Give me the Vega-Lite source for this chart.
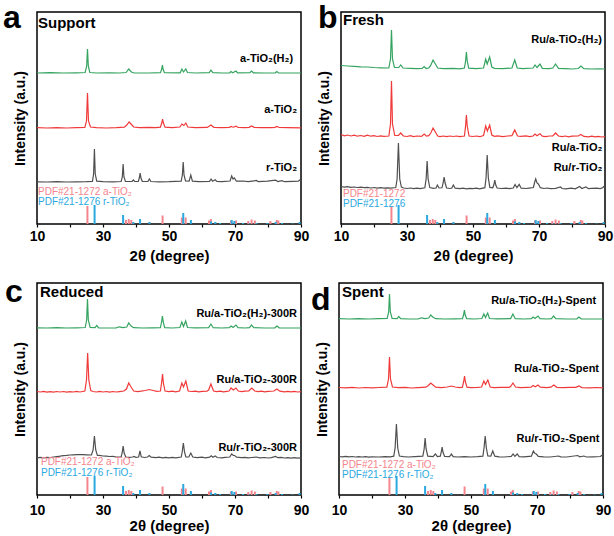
{
 "$schema":"https://vega.github.io/schema/vega-lite/v6.json",
 "padding":{"left":2,"top":1,"right":0,"bottom":0},
 "background":"white",
 "config":{"font":"Liberation Sans","view":{"stroke":"black","strokeWidth":1.5}},
 "datasets":{
  "sticks":[
   {"r":"A","x":25.28,"h":18},{"r":"A","x":36.95,"h":4},{"r":"A","x":37.8,"h":5},{"r":"A","x":38.58,"h":4},{"r":"A","x":48.05,"h":8.5},{"r":"A","x":53.89,"h":6.5},{"r":"A","x":55.06,"h":6.5},{"r":"A","x":62.12,"h":3.5},{"r":"A","x":62.69,"h":5},{"r":"A","x":68.76,"h":3.5},{"r":"A","x":70.31,"h":3.5},{"r":"A","x":74.03,"h":3},{"r":"A","x":75.03,"h":4.5},{"r":"A","x":76.02,"h":3.5},{"r":"A","x":80.73,"h":3},{"r":"A","x":82.66,"h":4},{"r":"A","x":83.15,"h":3.5},
   {"r":"R","x":27.45,"h":19},{"r":"R","x":36.09,"h":9},{"r":"R","x":39.19,"h":2},{"r":"R","x":41.23,"h":5},{"r":"R","x":44.05,"h":2},{"r":"R","x":54.32,"h":11},{"r":"R","x":56.64,"h":4},{"r":"R","x":62.74,"h":2.5},{"r":"R","x":64.04,"h":2},{"r":"R","x":65.48,"h":1},{"r":"R","x":69.01,"h":4},{"r":"R","x":69.79,"h":3},{"r":"R","x":72.41,"h":1},{"r":"R","x":74.41,"h":0.5},{"r":"R","x":76.51,"h":1},{"r":"R","x":79.82,"h":1},{"r":"R","x":82.33,"h":2},{"r":"R","x":84.26,"h":1},{"r":"R","x":87.46,"h":0.5},{"r":"R","x":89.56,"h":2}
  ],
  "labels":[
   {"p":"a","k":"curve","t":"a-TiO₂(H₂)","x":87.6,"y":165},{"p":"a","k":"curve","t":"a-TiO₂","x":88.8,"y":114},{"p":"a","k":"curve","t":"r-TiO₂","x":88.8,"y":56},
   {"p":"a","k":"pdfA","t":"PDF#21-1272 a-TiO₂","x":10.3,"y":32},{"p":"a","k":"pdfR","t":"PDF#21-1276 r-TiO₂","x":10.3,"y":22},
   {"p":"a","k":"title","t":"Support","x":10.3,"y":196},{"p":"a","k":"letter","t":"a","x":-0.3,"y":196},
   {"p":"b","k":"curve","t":"Ru/a-TiO₂(H₂)","x":89.1,"y":184},{"p":"b","k":"curve","t":"Ru/a-TiO₂","x":89.2,"y":76},{"p":"b","k":"curve","t":"Ru/r-TiO₂","x":89.2,"y":56},
   {"p":"b","k":"pdfA","t":"PDF#21-1272","x":10.6,"y":30},{"p":"b","k":"pdfR","t":"PDF#21-1276","x":10.6,"y":20},
   {"p":"b","k":"title","t":"Fresh","x":10.6,"y":199},{"p":"b","k":"letter","t":"b","x":3.0,"y":196},
   {"p":"c","k":"curve","t":"Ru/a-TiO₂(H₂)-300R","x":88.8,"y":181},{"p":"c","k":"curve","t":"Ru/a-TiO₂-300R","x":88.8,"y":115},{"p":"c","k":"curve","t":"Ru/r-TiO₂-300R","x":88.8,"y":47},
   {"p":"c","k":"pdfA","t":"PDF#21-1272 a-TiO₂","x":11.2,"y":33},{"p":"c","k":"pdfR","t":"PDF#21-1276 r-TiO₂","x":11.2,"y":22},
   {"p":"c","k":"title","t":"Reduced","x":10.9,"y":198},{"p":"c","k":"letter","t":"c","x":0.3,"y":193},
   {"p":"d","k":"curve","t":"Ru/a-TiO₂(H₂)-Spent","x":87.9,"y":194},{"p":"d","k":"curve","t":"Ru/a-TiO₂-Spent","x":88.8,"y":126},{"p":"d","k":"curve","t":"Ru/r-TiO₂-Spent","x":88.9,"y":56},
   {"p":"d","k":"pdfA","t":"PDF#21-1272 a-TiO₂","x":10.9,"y":30},{"p":"d","k":"pdfR","t":"PDF#21-1276  r-TiO₂","x":10.9,"y":20},
   {"p":"d","k":"title","t":"Spent","x":10.9,"y":198},{"p":"d","k":"letter","t":"d","x":1.5,"y":185}
  ],
  "xrd":[
   {"p":"a","s":"g","x":10,"y":151},{"p":"a","s":"g","x":14,"y":151.3},{"p":"a","s":"g","x":18,"y":151},{"p":"a","s":"g","x":22,"y":151.2},{"p":"a","s":"g","x":24.6,"y":151.5},{"p":"a","s":"g","x":25.05,"y":158},{"p":"a","s":"g","x":25.3,"y":175},{"p":"a","s":"g","x":25.55,"y":158},{"p":"a","s":"g","x":26,"y":151.5},{"p":"a","s":"g","x":28,"y":151},{"p":"a","s":"g","x":32,"y":151.2},{"p":"a","s":"g","x":35,"y":151},{"p":"a","s":"g","x":37,"y":151.5},{"p":"a","s":"g","x":37.8,"y":155},{"p":"a","s":"g","x":38.6,"y":152},{"p":"a","s":"g","x":39.5,"y":151},{"p":"a","s":"g","x":44,"y":151},{"p":"a","s":"g","x":47.4,"y":151.3},{"p":"a","s":"g","x":47.8,"y":155},{"p":"a","s":"g","x":48.0,"y":159},{"p":"a","s":"g","x":48.2,"y":155},{"p":"a","s":"g","x":48.6,"y":151.3},{"p":"a","s":"g","x":53.4,"y":151.2},{"p":"a","s":"g","x":53.9,"y":155},{"p":"a","s":"g","x":54.4,"y":152},{"p":"a","s":"g","x":55.1,"y":155},{"p":"a","s":"g","x":55.6,"y":151.5},{"p":"a","s":"g","x":58,"y":151},{"p":"a","s":"g","x":62.2,"y":151.3},{"p":"a","s":"g","x":62.7,"y":154},{"p":"a","s":"g","x":63.3,"y":151.3},{"p":"a","s":"g","x":66,"y":151},{"p":"a","s":"g","x":68.4,"y":151.2},{"p":"a","s":"g","x":68.8,"y":152.5},{"p":"a","s":"g","x":69.3,"y":151.3},{"p":"a","s":"g","x":70.3,"y":153},{"p":"a","s":"g","x":70.8,"y":151.2},{"p":"a","s":"g","x":74.5,"y":151.3},{"p":"a","s":"g","x":75.0,"y":153},{"p":"a","s":"g","x":75.6,"y":151.2},{"p":"a","s":"g","x":79,"y":151},{"p":"a","s":"g","x":82.2,"y":151.2},{"p":"a","s":"g","x":82.7,"y":152.5},{"p":"a","s":"g","x":83.2,"y":151.1},{"p":"a","s":"g","x":86,"y":151},{"p":"a","s":"g","x":90,"y":151},

   {"p":"a","s":"r","x":10,"y":96.3},{"p":"a","s":"r","x":13,"y":96},{"p":"a","s":"r","x":16,"y":96.4},{"p":"a","s":"r","x":19,"y":96},{"p":"a","s":"r","x":22,"y":96.3},{"p":"a","s":"r","x":24.5,"y":96.5},{"p":"a","s":"r","x":25.0,"y":103},{"p":"a","s":"r","x":25.3,"y":131},{"p":"a","s":"r","x":25.6,"y":103},{"p":"a","s":"r","x":26.2,"y":97},{"p":"a","s":"r","x":28,"y":96.3},{"p":"a","s":"r","x":31,"y":96},{"p":"a","s":"r","x":34,"y":96.3},{"p":"a","s":"r","x":36.5,"y":96.8},{"p":"a","s":"r","x":37.2,"y":99},{"p":"a","s":"r","x":37.9,"y":102},{"p":"a","s":"r","x":38.5,"y":100},{"p":"a","s":"r","x":39.3,"y":97},{"p":"a","s":"r","x":41,"y":96.4},{"p":"a","s":"r","x":44,"y":96.6},{"p":"a","s":"r","x":46,"y":96.3},{"p":"a","s":"r","x":47.4,"y":96.8},{"p":"a","s":"r","x":47.8,"y":101},{"p":"a","s":"r","x":48.05,"y":105},{"p":"a","s":"r","x":48.3,"y":101},{"p":"a","s":"r","x":48.8,"y":96.8},{"p":"a","s":"r","x":51,"y":96.4},{"p":"a","s":"r","x":53.3,"y":97},{"p":"a","s":"r","x":53.9,"y":100},{"p":"a","s":"r","x":54.5,"y":98.5},{"p":"a","s":"r","x":55.1,"y":101},{"p":"a","s":"r","x":55.7,"y":97},{"p":"a","s":"r","x":58,"y":96.3},{"p":"a","s":"r","x":61.6,"y":96.6},{"p":"a","s":"r","x":62.7,"y":99},{"p":"a","s":"r","x":63.6,"y":96.7},{"p":"a","s":"r","x":66,"y":96.3},{"p":"a","s":"r","x":68.3,"y":96.6},{"p":"a","s":"r","x":68.8,"y":97.5},{"p":"a","s":"r","x":69.5,"y":96.8},{"p":"a","s":"r","x":70.3,"y":97.8},{"p":"a","s":"r","x":71,"y":96.5},{"p":"a","s":"r","x":73,"y":96.3},{"p":"a","s":"r","x":74.3,"y":96.7},{"p":"a","s":"r","x":75.0,"y":98},{"p":"a","s":"r","x":75.8,"y":96.6},{"p":"a","s":"r","x":78,"y":96.3},{"p":"a","s":"r","x":81,"y":96.4},{"p":"a","s":"r","x":82.1,"y":96.7},{"p":"a","s":"r","x":82.7,"y":97.5},{"p":"a","s":"r","x":83.4,"y":96.5},{"p":"a","s":"r","x":86,"y":96.3},{"p":"a","s":"r","x":90,"y":96.2},

   {"p":"a","s":"k","x":10,"y":42.2},{"p":"a","s":"k","x":13,"y":42},{"p":"a","s":"k","x":16,"y":42.3},{"p":"a","s":"k","x":19,"y":42},{"p":"a","s":"k","x":22,"y":42.2},{"p":"a","s":"k","x":25,"y":42.3},{"p":"a","s":"k","x":26.8,"y":42.6},{"p":"a","s":"k","x":27.15,"y":50},{"p":"a","s":"k","x":27.4,"y":75},{"p":"a","s":"k","x":27.65,"y":50},{"p":"a","s":"k","x":28.1,"y":42.8},{"p":"a","s":"k","x":30,"y":42.3},{"p":"a","s":"k","x":33,"y":42.1},{"p":"a","s":"k","x":35.5,"y":42.5},{"p":"a","s":"k","x":35.85,"y":47},{"p":"a","s":"k","x":36.1,"y":60},{"p":"a","s":"k","x":36.35,"y":47},{"p":"a","s":"k","x":36.8,"y":42.6},{"p":"a","s":"k","x":38.8,"y":42.5},{"p":"a","s":"k","x":39.2,"y":44},{"p":"a","s":"k","x":39.6,"y":42.5},{"p":"a","s":"k","x":40.7,"y":42.7},{"p":"a","s":"k","x":41.0,"y":46},{"p":"a","s":"k","x":41.25,"y":51},{"p":"a","s":"k","x":41.5,"y":46},{"p":"a","s":"k","x":41.9,"y":42.7},{"p":"a","s":"k","x":43.6,"y":42.5},{"p":"a","s":"k","x":44.05,"y":45},{"p":"a","s":"k","x":44.5,"y":42.5},{"p":"a","s":"k","x":47,"y":42.2},{"p":"a","s":"k","x":50,"y":42.3},{"p":"a","s":"k","x":53.7,"y":42.8},{"p":"a","s":"k","x":54.05,"y":49},{"p":"a","s":"k","x":54.3,"y":62},{"p":"a","s":"k","x":54.55,"y":49},{"p":"a","s":"k","x":55.0,"y":43},{"p":"a","s":"k","x":56.1,"y":42.8},{"p":"a","s":"k","x":56.6,"y":49},{"p":"a","s":"k","x":57.1,"y":42.8},{"p":"a","s":"k","x":59,"y":42.3},{"p":"a","s":"k","x":62.3,"y":42.6},{"p":"a","s":"k","x":62.75,"y":45},{"p":"a","s":"k","x":63.2,"y":42.8},{"p":"a","s":"k","x":64.0,"y":44.2},{"p":"a","s":"k","x":64.5,"y":42.6},{"p":"a","s":"k","x":66,"y":42.4},{"p":"a","s":"k","x":68.5,"y":43},{"p":"a","s":"k","x":69.0,"y":48},{"p":"a","s":"k","x":69.4,"y":45},{"p":"a","s":"k","x":69.8,"y":46},{"p":"a","s":"k","x":70.4,"y":42.8},{"p":"a","s":"k","x":72.4,"y":43},{"p":"a","s":"k","x":74,"y":42.3},{"p":"a","s":"k","x":76.5,"y":43.5},{"p":"a","s":"k","x":77,"y":42.4},{"p":"a","s":"k","x":79.8,"y":42.8},{"p":"a","s":"k","x":82.3,"y":43.8},{"p":"a","s":"k","x":83,"y":42.5},{"p":"a","s":"k","x":84.2,"y":43.3},{"p":"a","s":"k","x":85,"y":42.3},{"p":"a","s":"k","x":87.5,"y":42.6},{"p":"a","s":"k","x":89.2,"y":42.8},{"p":"a","s":"k","x":89.6,"y":44},{"p":"a","s":"k","x":90,"y":43},

   {"p":"b","s":"g","x":10,"y":158.5},{"p":"b","s":"g","x":12,"y":158},{"p":"b","s":"g","x":14,"y":157.6},{"p":"b","s":"g","x":16,"y":157.2},{"p":"b","s":"g","x":18,"y":157},{"p":"b","s":"g","x":20,"y":156.5},{"p":"b","s":"g","x":22,"y":156.2},{"p":"b","s":"g","x":24.5,"y":156},{"p":"b","s":"g","x":25.0,"y":165},{"p":"b","s":"g","x":25.3,"y":194},{"p":"b","s":"g","x":25.6,"y":165},{"p":"b","s":"g","x":26.2,"y":156.5},{"p":"b","s":"g","x":27.5,"y":156.5},{"p":"b","s":"g","x":28.1,"y":159},{"p":"b","s":"g","x":28.8,"y":156},{"p":"b","s":"g","x":31,"y":155.6},{"p":"b","s":"g","x":33,"y":155.3},{"p":"b","s":"g","x":34.6,"y":155.5},{"p":"b","s":"g","x":35.2,"y":157.5},{"p":"b","s":"g","x":35.8,"y":155.5},{"p":"b","s":"g","x":36.6,"y":156},{"p":"b","s":"g","x":37.1,"y":158},{"p":"b","s":"g","x":37.9,"y":164},{"p":"b","s":"g","x":38.6,"y":160},{"p":"b","s":"g","x":39.3,"y":156},{"p":"b","s":"g","x":41,"y":155.3},{"p":"b","s":"g","x":44,"y":155.6},{"p":"b","s":"g","x":46,"y":155.2},{"p":"b","s":"g","x":47.4,"y":156},{"p":"b","s":"g","x":47.75,"y":163},{"p":"b","s":"g","x":48.0,"y":172},{"p":"b","s":"g","x":48.25,"y":163},{"p":"b","s":"g","x":48.7,"y":155.8},{"p":"b","s":"g","x":51,"y":155.3},{"p":"b","s":"g","x":53.2,"y":156},{"p":"b","s":"g","x":53.85,"y":165},{"p":"b","s":"g","x":54.3,"y":160},{"p":"b","s":"g","x":55.05,"y":167},{"p":"b","s":"g","x":55.7,"y":157},{"p":"b","s":"g","x":56.5,"y":155.6},{"p":"b","s":"g","x":59,"y":155.3},{"p":"b","s":"g","x":61.8,"y":156},{"p":"b","s":"g","x":62.65,"y":164},{"p":"b","s":"g","x":63.4,"y":156},{"p":"b","s":"g","x":65,"y":155.3},{"p":"b","s":"g","x":68.2,"y":156},{"p":"b","s":"g","x":68.8,"y":159},{"p":"b","s":"g","x":69.4,"y":156.5},{"p":"b","s":"g","x":70.3,"y":160},{"p":"b","s":"g","x":71,"y":155.6},{"p":"b","s":"g","x":73,"y":155.3},{"p":"b","s":"g","x":74.2,"y":156},{"p":"b","s":"g","x":75.0,"y":160},{"p":"b","s":"g","x":75.9,"y":155.6},{"p":"b","s":"g","x":78,"y":155.3},{"p":"b","s":"g","x":80,"y":155},{"p":"b","s":"g","x":81.9,"y":155.5},{"p":"b","s":"g","x":82.7,"y":158},{"p":"b","s":"g","x":83.6,"y":155.4},{"p":"b","s":"g","x":86,"y":155},{"p":"b","s":"g","x":88,"y":155.2},{"p":"b","s":"g","x":90,"y":155},

   {"p":"b","s":"r","x":10,"y":89.5},{"p":"b","s":"r","x":11,"y":88.2},{"p":"b","s":"r","x":12,"y":89},{"p":"b","s":"r","x":13,"y":88},{"p":"b","s":"r","x":14,"y":88.8},{"p":"b","s":"r","x":15,"y":87.8},{"p":"b","s":"r","x":16,"y":88.5},{"p":"b","s":"r","x":17,"y":87.6},{"p":"b","s":"r","x":18,"y":88.8},{"p":"b","s":"r","x":19,"y":87.8},{"p":"b","s":"r","x":20,"y":88.4},{"p":"b","s":"r","x":21,"y":87.5},{"p":"b","s":"r","x":22,"y":88.2},{"p":"b","s":"r","x":23,"y":87.6},{"p":"b","s":"r","x":24.5,"y":88},{"p":"b","s":"r","x":25.0,"y":100},{"p":"b","s":"r","x":25.3,"y":143},{"p":"b","s":"r","x":25.6,"y":100},{"p":"b","s":"r","x":26.3,"y":88.5},{"p":"b","s":"r","x":27.4,"y":88.5},{"p":"b","s":"r","x":28.1,"y":91},{"p":"b","s":"r","x":28.9,"y":88},{"p":"b","s":"r","x":30,"y":87.5},{"p":"b","s":"r","x":31,"y":88.3},{"p":"b","s":"r","x":32,"y":87.4},{"p":"b","s":"r","x":33,"y":88},{"p":"b","s":"r","x":34.4,"y":87.6},{"p":"b","s":"r","x":35.2,"y":90},{"p":"b","s":"r","x":35.9,"y":87.8},{"p":"b","s":"r","x":36.6,"y":88.4},{"p":"b","s":"r","x":37.2,"y":91},{"p":"b","s":"r","x":37.9,"y":96},{"p":"b","s":"r","x":38.6,"y":92},{"p":"b","s":"r","x":39.3,"y":88},{"p":"b","s":"r","x":40,"y":87.4},{"p":"b","s":"r","x":41,"y":88},{"p":"b","s":"r","x":42,"y":87.3},{"p":"b","s":"r","x":43,"y":88},{"p":"b","s":"r","x":44,"y":87.5},{"p":"b","s":"r","x":45,"y":88},{"p":"b","s":"r","x":46,"y":87.3},{"p":"b","s":"r","x":47.4,"y":88},{"p":"b","s":"r","x":47.75,"y":98},{"p":"b","s":"r","x":48.0,"y":109},{"p":"b","s":"r","x":48.25,"y":98},{"p":"b","s":"r","x":48.8,"y":88},{"p":"b","s":"r","x":50,"y":87.5},{"p":"b","s":"r","x":51,"y":88},{"p":"b","s":"r","x":52,"y":87.3},{"p":"b","s":"r","x":53.2,"y":88.5},{"p":"b","s":"r","x":53.85,"y":98},{"p":"b","s":"r","x":54.35,"y":93},{"p":"b","s":"r","x":55.05,"y":99},{"p":"b","s":"r","x":55.7,"y":89},{"p":"b","s":"r","x":56.5,"y":87.6},{"p":"b","s":"r","x":57.5,"y":88.2},{"p":"b","s":"r","x":59,"y":87.4},{"p":"b","s":"r","x":60.5,"y":88},{"p":"b","s":"r","x":61.8,"y":88.4},{"p":"b","s":"r","x":62.65,"y":94},{"p":"b","s":"r","x":63.5,"y":88},{"p":"b","s":"r","x":64.5,"y":87.6},{"p":"b","s":"r","x":66,"y":88.1},{"p":"b","s":"r","x":67.2,"y":87.4},{"p":"b","s":"r","x":68.2,"y":88},{"p":"b","s":"r","x":68.8,"y":90},{"p":"b","s":"r","x":69.4,"y":88.2},{"p":"b","s":"r","x":70.3,"y":90.3},{"p":"b","s":"r","x":71,"y":87.8},{"p":"b","s":"r","x":72,"y":87.3},{"p":"b","s":"r","x":73.2,"y":88},{"p":"b","s":"r","x":74.2,"y":88},{"p":"b","s":"r","x":75.0,"y":91},{"p":"b","s":"r","x":75.9,"y":88},{"p":"b","s":"r","x":77,"y":87.3},{"p":"b","s":"r","x":78,"y":88},{"p":"b","s":"r","x":79,"y":87.2},{"p":"b","s":"r","x":80,"y":87.8},{"p":"b","s":"r","x":81.9,"y":88},{"p":"b","s":"r","x":82.7,"y":89.5},{"p":"b","s":"r","x":83.6,"y":87.6},{"p":"b","s":"r","x":85,"y":87.2},{"p":"b","s":"r","x":86,"y":87.8},{"p":"b","s":"r","x":87,"y":87.1},{"p":"b","s":"r","x":88,"y":87.6},{"p":"b","s":"r","x":89,"y":87},{"p":"b","s":"r","x":90,"y":87.4},

   {"p":"b","s":"k","x":10,"y":37.5},{"p":"b","s":"k","x":11,"y":36.8},{"p":"b","s":"k","x":12,"y":37.3},{"p":"b","s":"k","x":13,"y":36.7},{"p":"b","s":"k","x":14,"y":37},{"p":"b","s":"k","x":15,"y":36.5},{"p":"b","s":"k","x":16,"y":36.9},{"p":"b","s":"k","x":17,"y":36.3},{"p":"b","s":"k","x":18,"y":36.7},{"p":"b","s":"k","x":19,"y":36},{"p":"b","s":"k","x":20,"y":36.5},{"p":"b","s":"k","x":21,"y":35.9},{"p":"b","s":"k","x":22,"y":36.3},{"p":"b","s":"k","x":23,"y":35.8},{"p":"b","s":"k","x":24,"y":36.2},{"p":"b","s":"k","x":25,"y":35.8},{"p":"b","s":"k","x":26.6,"y":36.5},{"p":"b","s":"k","x":27.0,"y":45},{"p":"b","s":"k","x":27.4,"y":81},{"p":"b","s":"k","x":27.8,"y":45},{"p":"b","s":"k","x":28.3,"y":37},{"p":"b","s":"k","x":29,"y":36},{"p":"b","s":"k","x":30,"y":35.5},{"p":"b","s":"k","x":31,"y":36},{"p":"b","s":"k","x":32,"y":35.4},{"p":"b","s":"k","x":33,"y":35.8},{"p":"b","s":"k","x":34,"y":35.3},{"p":"b","s":"k","x":35.4,"y":36.2},{"p":"b","s":"k","x":35.8,"y":45},{"p":"b","s":"k","x":36.1,"y":63},{"p":"b","s":"k","x":36.4,"y":45},{"p":"b","s":"k","x":36.9,"y":36.5},{"p":"b","s":"k","x":38,"y":35.6},{"p":"b","s":"k","x":38.8,"y":36},{"p":"b","s":"k","x":39.2,"y":39},{"p":"b","s":"k","x":39.7,"y":36},{"p":"b","s":"k","x":40.6,"y":36.2},{"p":"b","s":"k","x":40.95,"y":41},{"p":"b","s":"k","x":41.25,"y":47},{"p":"b","s":"k","x":41.55,"y":41},{"p":"b","s":"k","x":42,"y":36},{"p":"b","s":"k","x":43,"y":35.5},{"p":"b","s":"k","x":43.6,"y":36},{"p":"b","s":"k","x":44.05,"y":39},{"p":"b","s":"k","x":44.6,"y":35.8},{"p":"b","s":"k","x":46,"y":35.3},{"p":"b","s":"k","x":47,"y":35.8},{"p":"b","s":"k","x":48,"y":35.2},{"p":"b","s":"k","x":49,"y":35.7},{"p":"b","s":"k","x":50,"y":35.3},{"p":"b","s":"k","x":51,"y":35.8},{"p":"b","s":"k","x":52,"y":35.2},{"p":"b","s":"k","x":53.6,"y":36.3},{"p":"b","s":"k","x":53.95,"y":46},{"p":"b","s":"k","x":54.3,"y":69},{"p":"b","s":"k","x":54.65,"y":46},{"p":"b","s":"k","x":55.1,"y":36.6},{"p":"b","s":"k","x":56,"y":36.2},{"p":"b","s":"k","x":56.3,"y":39},{"p":"b","s":"k","x":56.6,"y":44},{"p":"b","s":"k","x":56.9,"y":39},{"p":"b","s":"k","x":57.3,"y":36},{"p":"b","s":"k","x":58.5,"y":35.5},{"p":"b","s":"k","x":60,"y":35.8},{"p":"b","s":"k","x":61,"y":35.3},{"p":"b","s":"k","x":62.2,"y":36},{"p":"b","s":"k","x":62.75,"y":39.5},{"p":"b","s":"k","x":63.3,"y":36.3},{"p":"b","s":"k","x":64.0,"y":39.5},{"p":"b","s":"k","x":64.6,"y":35.8},{"p":"b","s":"k","x":66,"y":35.5},{"p":"b","s":"k","x":67,"y":35.9},{"p":"b","s":"k","x":68.3,"y":36.5},{"p":"b","s":"k","x":68.7,"y":42},{"p":"b","s":"k","x":69.0,"y":45},{"p":"b","s":"k","x":69.4,"y":41},{"p":"b","s":"k","x":69.8,"y":40},{"p":"b","s":"k","x":70.4,"y":36.3},{"p":"b","s":"k","x":71.5,"y":35.5},{"p":"b","s":"k","x":72.4,"y":36},{"p":"b","s":"k","x":73.5,"y":35.3},{"p":"b","s":"k","x":75,"y":35.7},{"p":"b","s":"k","x":76.5,"y":37},{"p":"b","s":"k","x":77,"y":35.5},{"p":"b","s":"k","x":78,"y":35.2},{"p":"b","s":"k","x":79.8,"y":35.8},{"p":"b","s":"k","x":81,"y":35.2},{"p":"b","s":"k","x":82.3,"y":37.5},{"p":"b","s":"k","x":83,"y":35.5},{"p":"b","s":"k","x":84.2,"y":37},{"p":"b","s":"k","x":85,"y":35.3},{"p":"b","s":"k","x":86,"y":35.6},{"p":"b","s":"k","x":87.5,"y":35.8},{"p":"b","s":"k","x":88.5,"y":35.4},{"p":"b","s":"k","x":89.3,"y":36.3},{"p":"b","s":"k","x":89.6,"y":37.5},{"p":"b","s":"k","x":90,"y":36.5},

   {"p":"c","s":"g","x":10,"y":167.2},{"p":"c","s":"g","x":13,"y":167},{"p":"c","s":"g","x":16,"y":167.3},{"p":"c","s":"g","x":19,"y":167},{"p":"c","s":"g","x":22,"y":167.2},{"p":"c","s":"g","x":24.6,"y":167.5},{"p":"c","s":"g","x":25.05,"y":175},{"p":"c","s":"g","x":25.3,"y":196},{"p":"c","s":"g","x":25.55,"y":175},{"p":"c","s":"g","x":26.1,"y":167.6},{"p":"c","s":"g","x":27.6,"y":167.3},{"p":"c","s":"g","x":28.1,"y":169.5},{"p":"c","s":"g","x":28.7,"y":167.2},{"p":"c","s":"g","x":31,"y":167},{"p":"c","s":"g","x":34,"y":167.2},{"p":"c","s":"g","x":35,"y":168.2},{"p":"c","s":"g","x":36,"y":167.3},{"p":"c","s":"g","x":37.2,"y":168},{"p":"c","s":"g","x":37.8,"y":172},{"p":"c","s":"g","x":38.5,"y":169},{"p":"c","s":"g","x":39.3,"y":167.3},{"p":"c","s":"g","x":42,"y":167},{"p":"c","s":"g","x":45,"y":167.2},{"p":"c","s":"g","x":47.4,"y":167.4},{"p":"c","s":"g","x":47.75,"y":173},{"p":"c","s":"g","x":48.0,"y":179},{"p":"c","s":"g","x":48.25,"y":173},{"p":"c","s":"g","x":48.7,"y":167.3},{"p":"c","s":"g","x":51,"y":167},{"p":"c","s":"g","x":53.3,"y":167.5},{"p":"c","s":"g","x":53.9,"y":173},{"p":"c","s":"g","x":54.4,"y":168.5},{"p":"c","s":"g","x":55.05,"y":174},{"p":"c","s":"g","x":55.6,"y":167.5},{"p":"c","s":"g","x":58,"y":167.1},{"p":"c","s":"g","x":62.0,"y":167.4},{"p":"c","s":"g","x":62.7,"y":171},{"p":"c","s":"g","x":63.4,"y":167.3},{"p":"c","s":"g","x":66,"y":167},{"p":"c","s":"g","x":68.3,"y":167.3},{"p":"c","s":"g","x":68.8,"y":169},{"p":"c","s":"g","x":69.4,"y":167.5},{"p":"c","s":"g","x":70.3,"y":170},{"p":"c","s":"g","x":70.9,"y":167.3},{"p":"c","s":"g","x":73,"y":167},{"p":"c","s":"g","x":74.4,"y":167.3},{"p":"c","s":"g","x":75.0,"y":170},{"p":"c","s":"g","x":75.7,"y":167.3},{"p":"c","s":"g","x":79,"y":167},{"p":"c","s":"g","x":82.1,"y":167.2},{"p":"c","s":"g","x":82.7,"y":169},{"p":"c","s":"g","x":83.4,"y":167.2},{"p":"c","s":"g","x":86,"y":167},{"p":"c","s":"g","x":90,"y":167},

   {"p":"c","s":"r","x":10,"y":103.5},{"p":"c","s":"r","x":11,"y":103},{"p":"c","s":"r","x":12,"y":103.6},{"p":"c","s":"r","x":13,"y":102.8},{"p":"c","s":"r","x":14,"y":103.4},{"p":"c","s":"r","x":15,"y":102.9},{"p":"c","s":"r","x":16,"y":103.5},{"p":"c","s":"r","x":17,"y":103},{"p":"c","s":"r","x":18,"y":103.5},{"p":"c","s":"r","x":19,"y":102.8},{"p":"c","s":"r","x":20,"y":103.4},{"p":"c","s":"r","x":21,"y":103},{"p":"c","s":"r","x":22,"y":103.6},{"p":"c","s":"r","x":23,"y":103},{"p":"c","s":"r","x":24.5,"y":104},{"p":"c","s":"r","x":25.0,"y":115},{"p":"c","s":"r","x":25.35,"y":142},{"p":"c","s":"r","x":25.7,"y":115},{"p":"c","s":"r","x":26.3,"y":104.5},{"p":"c","s":"r","x":27,"y":103.5},{"p":"c","s":"r","x":28,"y":103},{"p":"c","s":"r","x":29,"y":103.6},{"p":"c","s":"r","x":30,"y":103},{"p":"c","s":"r","x":31,"y":103.5},{"p":"c","s":"r","x":32,"y":102.9},{"p":"c","s":"r","x":33,"y":103.5},{"p":"c","s":"r","x":34,"y":103},{"p":"c","s":"r","x":35,"y":103.4},{"p":"c","s":"r","x":36.3,"y":104},{"p":"c","s":"r","x":37.1,"y":106},{"p":"c","s":"r","x":37.8,"y":112},{"p":"c","s":"r","x":38.5,"y":108},{"p":"c","s":"r","x":39.3,"y":104},{"p":"c","s":"r","x":40.5,"y":103.4},{"p":"c","s":"r","x":41.5,"y":103.8},{"p":"c","s":"r","x":42.8,"y":104.5},{"p":"c","s":"r","x":44,"y":105.5},{"p":"c","s":"r","x":45.2,"y":104.5},{"p":"c","s":"r","x":46.3,"y":103.6},{"p":"c","s":"r","x":47.4,"y":104},{"p":"c","s":"r","x":47.75,"y":112},{"p":"c","s":"r","x":48.05,"y":121},{"p":"c","s":"r","x":48.3,"y":112},{"p":"c","s":"r","x":48.8,"y":104},{"p":"c","s":"r","x":50,"y":103.3},{"p":"c","s":"r","x":51,"y":103.8},{"p":"c","s":"r","x":52,"y":103.2},{"p":"c","s":"r","x":53.2,"y":104},{"p":"c","s":"r","x":53.9,"y":112},{"p":"c","s":"r","x":54.4,"y":108},{"p":"c","s":"r","x":55.1,"y":114},{"p":"c","s":"r","x":55.8,"y":104},{"p":"c","s":"r","x":56.8,"y":103.5},{"p":"c","s":"r","x":58,"y":103.8},{"p":"c","s":"r","x":59,"y":103.2},{"p":"c","s":"r","x":60,"y":103.7},{"p":"c","s":"r","x":61.5,"y":103.8},{"p":"c","s":"r","x":62.0,"y":105},{"p":"c","s":"r","x":62.7,"y":111},{"p":"c","s":"r","x":63.5,"y":104},{"p":"c","s":"r","x":64.5,"y":103.3},{"p":"c","s":"r","x":65.5,"y":103.8},{"p":"c","s":"r","x":66.5,"y":103.2},{"p":"c","s":"r","x":67.5,"y":103.7},{"p":"c","s":"r","x":68.2,"y":104},{"p":"c","s":"r","x":68.8,"y":107},{"p":"c","s":"r","x":69.5,"y":105},{"p":"c","s":"r","x":70.3,"y":107},{"p":"c","s":"r","x":71,"y":104},{"p":"c","s":"r","x":72,"y":103.3},{"p":"c","s":"r","x":73,"y":103.8},{"p":"c","s":"r","x":74.2,"y":104.2},{"p":"c","s":"r","x":75.1,"y":107},{"p":"c","s":"r","x":76,"y":104},{"p":"c","s":"r","x":77,"y":103.3},{"p":"c","s":"r","x":78,"y":103.8},{"p":"c","s":"r","x":79,"y":103.2},{"p":"c","s":"r","x":80,"y":103.7},{"p":"c","s":"r","x":81.8,"y":104},{"p":"c","s":"r","x":82.7,"y":106},{"p":"c","s":"r","x":83.6,"y":103.8},{"p":"c","s":"r","x":85,"y":103.2},{"p":"c","s":"r","x":86,"y":103.7},{"p":"c","s":"r","x":87,"y":103.1},{"p":"c","s":"r","x":88,"y":103.6},{"p":"c","s":"r","x":89,"y":103},{"p":"c","s":"r","x":90,"y":103.4},

   {"p":"c","s":"k","x":10,"y":37.2},{"p":"c","s":"k","x":11,"y":37.6},{"p":"c","s":"k","x":12,"y":37.1},{"p":"c","s":"k","x":13,"y":37.7},{"p":"c","s":"k","x":14,"y":37.3},{"p":"c","s":"k","x":15,"y":38},{"p":"c","s":"k","x":16,"y":38.4},{"p":"c","s":"k","x":17,"y":38.8},{"p":"c","s":"k","x":18,"y":39.3},{"p":"c","s":"k","x":19,"y":39.6},{"p":"c","s":"k","x":20,"y":40},{"p":"c","s":"k","x":21,"y":40.2},{"p":"c","s":"k","x":22,"y":40.4},{"p":"c","s":"k","x":23,"y":40.5},{"p":"c","s":"k","x":24,"y":40.4},{"p":"c","s":"k","x":25,"y":40.2},{"p":"c","s":"k","x":26.5,"y":40},{"p":"c","s":"k","x":27.0,"y":45},{"p":"c","s":"k","x":27.4,"y":59},{"p":"c","s":"k","x":27.8,"y":45},{"p":"c","s":"k","x":28.3,"y":39.5},{"p":"c","s":"k","x":29,"y":39.6},{"p":"c","s":"k","x":30,"y":39},{"p":"c","s":"k","x":31,"y":38.8},{"p":"c","s":"k","x":32,"y":38.5},{"p":"c","s":"k","x":33,"y":38.6},{"p":"c","s":"k","x":34,"y":38},{"p":"c","s":"k","x":35.5,"y":38},{"p":"c","s":"k","x":35.8,"y":42},{"p":"c","s":"k","x":36.1,"y":49},{"p":"c","s":"k","x":36.4,"y":42},{"p":"c","s":"k","x":36.9,"y":38},{"p":"c","s":"k","x":38,"y":37.6},{"p":"c","s":"k","x":39,"y":38},{"p":"c","s":"k","x":39.3,"y":38.5},{"p":"c","s":"k","x":40,"y":37.6},{"p":"c","s":"k","x":40.8,"y":38},{"p":"c","s":"k","x":41.2,"y":44},{"p":"c","s":"k","x":41.6,"y":38.2},{"p":"c","s":"k","x":42.5,"y":37.5},{"p":"c","s":"k","x":43.5,"y":38},{"p":"c","s":"k","x":44,"y":39.5},{"p":"c","s":"k","x":44.6,"y":37.8},{"p":"c","s":"k","x":46,"y":37.3},{"p":"c","s":"k","x":47,"y":37.8},{"p":"c","s":"k","x":48,"y":37.2},{"p":"c","s":"k","x":49,"y":37.7},{"p":"c","s":"k","x":50,"y":37.1},{"p":"c","s":"k","x":51,"y":37.6},{"p":"c","s":"k","x":52,"y":37.2},{"p":"c","s":"k","x":53.7,"y":38},{"p":"c","s":"k","x":54.0,"y":43},{"p":"c","s":"k","x":54.35,"y":52},{"p":"c","s":"k","x":54.7,"y":43},{"p":"c","s":"k","x":55.1,"y":38},{"p":"c","s":"k","x":56,"y":38},{"p":"c","s":"k","x":56.6,"y":42},{"p":"c","s":"k","x":57.2,"y":38},{"p":"c","s":"k","x":58.5,"y":37.3},{"p":"c","s":"k","x":60,"y":37.8},{"p":"c","s":"k","x":61,"y":37.2},{"p":"c","s":"k","x":62.3,"y":37.8},{"p":"c","s":"k","x":62.8,"y":39.2},{"p":"c","s":"k","x":63.3,"y":37.8},{"p":"c","s":"k","x":64,"y":39},{"p":"c","s":"k","x":64.6,"y":37.5},{"p":"c","s":"k","x":66,"y":37.2},{"p":"c","s":"k","x":67,"y":37.7},{"p":"c","s":"k","x":68.4,"y":38},{"p":"c","s":"k","x":69,"y":41},{"p":"c","s":"k","x":69.5,"y":39.5},{"p":"c","s":"k","x":69.9,"y":39.5},{"p":"c","s":"k","x":70.5,"y":37.8},{"p":"c","s":"k","x":72,"y":37.3},{"p":"c","s":"k","x":73,"y":37.7},{"p":"c","s":"k","x":74,"y":37.2},{"p":"c","s":"k","x":75,"y":37.5},{"p":"c","s":"k","x":76.5,"y":38},{"p":"c","s":"k","x":77.5,"y":37.2},{"p":"c","s":"k","x":79,"y":37.5},{"p":"c","s":"k","x":80,"y":37},{"p":"c","s":"k","x":81,"y":37.4},{"p":"c","s":"k","x":82.3,"y":38.5},{"p":"c","s":"k","x":83,"y":37.3},{"p":"c","s":"k","x":84,"y":37.6},{"p":"c","s":"k","x":85,"y":37},{"p":"c","s":"k","x":86,"y":37.4},{"p":"c","s":"k","x":87,"y":36.9},{"p":"c","s":"k","x":88,"y":37.3},{"p":"c","s":"k","x":89,"y":36.8},{"p":"c","s":"k","x":90,"y":37.2},

   {"p":"d","s":"g","x":10,"y":176.3},{"p":"d","s":"g","x":13,"y":176},{"p":"d","s":"g","x":16,"y":176.4},{"p":"d","s":"g","x":19,"y":176},{"p":"d","s":"g","x":22,"y":176.3},{"p":"d","s":"g","x":24.6,"y":176.6},{"p":"d","s":"g","x":25.05,"y":183},{"p":"d","s":"g","x":25.3,"y":201},{"p":"d","s":"g","x":25.55,"y":183},{"p":"d","s":"g","x":26.1,"y":176.6},{"p":"d","s":"g","x":27.6,"y":176.4},{"p":"d","s":"g","x":28.1,"y":178.5},{"p":"d","s":"g","x":28.7,"y":176.3},{"p":"d","s":"g","x":31,"y":176},{"p":"d","s":"g","x":34,"y":176.2},{"p":"d","s":"g","x":35,"y":177.2},{"p":"d","s":"g","x":36,"y":176.3},{"p":"d","s":"g","x":37.2,"y":177},{"p":"d","s":"g","x":37.8,"y":180},{"p":"d","s":"g","x":38.5,"y":177.8},{"p":"d","s":"g","x":39.3,"y":176.3},{"p":"d","s":"g","x":42,"y":176},{"p":"d","s":"g","x":45,"y":176.2},{"p":"d","s":"g","x":47.4,"y":176.4},{"p":"d","s":"g","x":47.75,"y":180},{"p":"d","s":"g","x":48.0,"y":185},{"p":"d","s":"g","x":48.25,"y":180},{"p":"d","s":"g","x":48.7,"y":176.3},{"p":"d","s":"g","x":51,"y":176},{"p":"d","s":"g","x":53.3,"y":176.5},{"p":"d","s":"g","x":53.9,"y":181},{"p":"d","s":"g","x":54.4,"y":177.5},{"p":"d","s":"g","x":55.05,"y":182},{"p":"d","s":"g","x":55.6,"y":176.5},{"p":"d","s":"g","x":58,"y":176.1},{"p":"d","s":"g","x":62.0,"y":176.4},{"p":"d","s":"g","x":62.7,"y":181},{"p":"d","s":"g","x":63.4,"y":176.3},{"p":"d","s":"g","x":66,"y":176},{"p":"d","s":"g","x":68.3,"y":176.3},{"p":"d","s":"g","x":68.8,"y":178},{"p":"d","s":"g","x":69.4,"y":176.5},{"p":"d","s":"g","x":70.3,"y":179},{"p":"d","s":"g","x":70.9,"y":176.3},{"p":"d","s":"g","x":73,"y":176},{"p":"d","s":"g","x":74.4,"y":176.3},{"p":"d","s":"g","x":75.0,"y":179},{"p":"d","s":"g","x":75.7,"y":176.3},{"p":"d","s":"g","x":79,"y":176},{"p":"d","s":"g","x":82.1,"y":176.2},{"p":"d","s":"g","x":82.7,"y":178},{"p":"d","s":"g","x":83.4,"y":176.2},{"p":"d","s":"g","x":86,"y":176},{"p":"d","s":"g","x":90,"y":176},

   {"p":"d","s":"r","x":10,"y":107.5},{"p":"d","s":"r","x":12,"y":107.1},{"p":"d","s":"r","x":14,"y":107.6},{"p":"d","s":"r","x":16,"y":107},{"p":"d","s":"r","x":18,"y":107.5},{"p":"d","s":"r","x":20,"y":107.1},{"p":"d","s":"r","x":22,"y":107.5},{"p":"d","s":"r","x":24.5,"y":107.8},{"p":"d","s":"r","x":25.0,"y":116},{"p":"d","s":"r","x":25.3,"y":138},{"p":"d","s":"r","x":25.6,"y":116},{"p":"d","s":"r","x":26.2,"y":108},{"p":"d","s":"r","x":28,"y":107.3},{"p":"d","s":"r","x":30,"y":107.6},{"p":"d","s":"r","x":32,"y":107},{"p":"d","s":"r","x":34,"y":107.4},{"p":"d","s":"r","x":36.3,"y":107.8},{"p":"d","s":"r","x":37.1,"y":109.5},{"p":"d","s":"r","x":37.8,"y":112},{"p":"d","s":"r","x":38.5,"y":110},{"p":"d","s":"r","x":39.3,"y":107.8},{"p":"d","s":"r","x":41,"y":107.3},{"p":"d","s":"r","x":42.8,"y":108},{"p":"d","s":"r","x":44,"y":109},{"p":"d","s":"r","x":45.2,"y":108},{"p":"d","s":"r","x":46.5,"y":107.4},{"p":"d","s":"r","x":47.4,"y":107.8},{"p":"d","s":"r","x":47.75,"y":113},{"p":"d","s":"r","x":48.05,"y":119},{"p":"d","s":"r","x":48.3,"y":113},{"p":"d","s":"r","x":48.8,"y":107.8},{"p":"d","s":"r","x":50,"y":107.3},{"p":"d","s":"r","x":52,"y":107.6},{"p":"d","s":"r","x":53.2,"y":108},{"p":"d","s":"r","x":53.9,"y":114},{"p":"d","s":"r","x":54.4,"y":110.5},{"p":"d","s":"r","x":55.1,"y":115},{"p":"d","s":"r","x":55.8,"y":108},{"p":"d","s":"r","x":57,"y":107.4},{"p":"d","s":"r","x":59,"y":107.7},{"p":"d","s":"r","x":61.5,"y":107.6},{"p":"d","s":"r","x":62.0,"y":108.5},{"p":"d","s":"r","x":62.7,"y":112},{"p":"d","s":"r","x":63.5,"y":108},{"p":"d","s":"r","x":65,"y":107.3},{"p":"d","s":"r","x":67,"y":107.6},{"p":"d","s":"r","x":68.2,"y":107.8},{"p":"d","s":"r","x":68.8,"y":109.5},{"p":"d","s":"r","x":69.5,"y":108.2},{"p":"d","s":"r","x":70.3,"y":110},{"p":"d","s":"r","x":71,"y":107.8},{"p":"d","s":"r","x":73,"y":107.3},{"p":"d","s":"r","x":74.2,"y":107.8},{"p":"d","s":"r","x":75.1,"y":110},{"p":"d","s":"r","x":76,"y":107.7},{"p":"d","s":"r","x":78,"y":107.3},{"p":"d","s":"r","x":80,"y":107.6},{"p":"d","s":"r","x":81.8,"y":107.6},{"p":"d","s":"r","x":82.7,"y":109},{"p":"d","s":"r","x":83.6,"y":107.4},{"p":"d","s":"r","x":86,"y":107.2},{"p":"d","s":"r","x":88,"y":107.5},{"p":"d","s":"r","x":90,"y":107.1},

   {"p":"d","s":"k","x":10,"y":38.5},{"p":"d","s":"k","x":11,"y":38.2},{"p":"d","s":"k","x":12,"y":38.6},{"p":"d","s":"k","x":13,"y":38.1},{"p":"d","s":"k","x":14,"y":38.5},{"p":"d","s":"k","x":15,"y":38},{"p":"d","s":"k","x":16,"y":38.4},{"p":"d","s":"k","x":17,"y":38},{"p":"d","s":"k","x":18,"y":38.3},{"p":"d","s":"k","x":19,"y":37.9},{"p":"d","s":"k","x":20,"y":38.2},{"p":"d","s":"k","x":22,"y":38},{"p":"d","s":"k","x":24,"y":38.3},{"p":"d","s":"k","x":25.5,"y":38.2},{"p":"d","s":"k","x":26.6,"y":38.8},{"p":"d","s":"k","x":27.0,"y":47},{"p":"d","s":"k","x":27.4,"y":71},{"p":"d","s":"k","x":27.8,"y":47},{"p":"d","s":"k","x":28.3,"y":39},{"p":"d","s":"k","x":29.5,"y":38.3},{"p":"d","s":"k","x":31,"y":38},{"p":"d","s":"k","x":33,"y":38.3},{"p":"d","s":"k","x":35.4,"y":38.8},{"p":"d","s":"k","x":35.8,"y":46},{"p":"d","s":"k","x":36.1,"y":57},{"p":"d","s":"k","x":36.4,"y":46},{"p":"d","s":"k","x":36.9,"y":38.8},{"p":"d","s":"k","x":38.5,"y":38.3},{"p":"d","s":"k","x":39.2,"y":41},{"p":"d","s":"k","x":39.8,"y":38.4},{"p":"d","s":"k","x":40.7,"y":38.8},{"p":"d","s":"k","x":41.0,"y":43},{"p":"d","s":"k","x":41.25,"y":48},{"p":"d","s":"k","x":41.5,"y":43},{"p":"d","s":"k","x":42,"y":38.5},{"p":"d","s":"k","x":43.5,"y":38.3},{"p":"d","s":"k","x":44.05,"y":41},{"p":"d","s":"k","x":44.6,"y":38.3},{"p":"d","s":"k","x":46,"y":38},{"p":"d","s":"k","x":48,"y":38.3},{"p":"d","s":"k","x":50,"y":38},{"p":"d","s":"k","x":52,"y":38.3},{"p":"d","s":"k","x":53.6,"y":38.8},{"p":"d","s":"k","x":53.95,"y":47},{"p":"d","s":"k","x":54.3,"y":59},{"p":"d","s":"k","x":54.65,"y":47},{"p":"d","s":"k","x":55.1,"y":39},{"p":"d","s":"k","x":56,"y":38.8},{"p":"d","s":"k","x":56.6,"y":44},{"p":"d","s":"k","x":57.2,"y":38.8},{"p":"d","s":"k","x":58.5,"y":38.2},{"p":"d","s":"k","x":60,"y":38},{"p":"d","s":"k","x":62.2,"y":38.6},{"p":"d","s":"k","x":62.75,"y":41},{"p":"d","s":"k","x":63.3,"y":38.6},{"p":"d","s":"k","x":64.0,"y":41},{"p":"d","s":"k","x":64.6,"y":38.4},{"p":"d","s":"k","x":66,"y":38.1},{"p":"d","s":"k","x":68.3,"y":38.8},{"p":"d","s":"k","x":68.9,"y":44},{"p":"d","s":"k","x":69.4,"y":41.5},{"p":"d","s":"k","x":69.8,"y":41},{"p":"d","s":"k","x":70.4,"y":38.6},{"p":"d","s":"k","x":72,"y":38.2},{"p":"d","s":"k","x":74,"y":38},{"p":"d","s":"k","x":76.5,"y":39},{"p":"d","s":"k","x":77.2,"y":38.2},{"p":"d","s":"k","x":79,"y":38},{"p":"d","s":"k","x":82.3,"y":39.5},{"p":"d","s":"k","x":83,"y":38.2},{"p":"d","s":"k","x":84.2,"y":39},{"p":"d","s":"k","x":85,"y":38},{"p":"d","s":"k","x":87,"y":38.2},{"p":"d","s":"k","x":89.2,"y":38.5},{"p":"d","s":"k","x":89.6,"y":39.5},{"p":"d","s":"k","x":90,"y":39}
  ]
 },
 "vconcat":[
  {"spacing":6,"hconcat":[
   {"width":264,"height":212,
    "encoding":{"x":{"field":"x","type":"quantitative","scale":{"domain":[10,90],"nice":false,"zero":false},"axis":{"title":"2θ (degree)","values":[10,20,30,40,50,60,70,80,90],"labelExpr":"datum.value % 20 == 10 ? datum.label : ''","labelFlush":false,"labelOverlap":false,"labelFontSize":14,"labelFontWeight":"bold","labelColor":"black","labelPadding":2,"tickSize":3,"tickColor":"black","tickWidth":1.2,"titleFontSize":15,"titleFontWeight":"bold","titleColor":"black","titlePadding":5,"domain":false,"grid":false}},
     "y":{"field":"y","type":"quantitative","title":"Intensity (a.u.)","scale":{"domain":[0,212],"nice":false,"zero":false},"axis":{"labels":false,"ticks":false,"domain":false,"grid":false,"titleFontSize":14,"titleFontWeight":"bold","titleColor":"black","titlePadding":10}}},
    "layer":[
     {"data":{"name":"sticks"},"mark":{"type":"rule","strokeWidth":2},"encoding":{"y":{"field":"h","type":"quantitative","title":"Intensity (a.u.)"},"y2":{"datum":0},"color":{"field":"r","type":"nominal","scale":{"domain":["g","r","k","A","R"],"range":["#35a460","#f03a3a","#505050","#f4858d","#2aa8e0"]},"legend":null}}},
     {"data":{"name":"xrd"},"transform":[{"filter":"datum.p=='a'"}],"mark":{"type":"line","strokeWidth":1.2},"encoding":{"color":{"field":"s","type":"nominal","scale":{"domain":["g","r","k","A","R"],"range":["#35a460","#f03a3a","#505050","#f4858d","#2aa8e0"]},"legend":null}}},
     {"data":{"name":"labels"},"transform":[{"filter":"datum.p=='a' && datum.k=='curve'"}],"mark":{"type":"text","align":"right","baseline":"middle","fontSize":11,"fontWeight":"bold","color":"black"},"encoding":{"text":{"field":"t"}}},
     {"data":{"name":"labels"},"transform":[{"filter":"datum.p=='a' && datum.k=='pdfA'"}],"mark":{"type":"text","align":"left","baseline":"middle","fontSize":10,"color":"#f4858d"},"encoding":{"text":{"field":"t"}}},
     {"data":{"name":"labels"},"transform":[{"filter":"datum.p=='a' && datum.k=='pdfR'"}],"mark":{"type":"text","align":"left","baseline":"middle","fontSize":10,"color":"#2aa8e0"},"encoding":{"text":{"field":"t"}}},
     {"data":{"name":"labels"},"transform":[{"filter":"datum.p=='a' && datum.k=='title'"}],"mark":{"type":"text","align":"left","baseline":"alphabetic","fontSize":15,"fontWeight":"bold","color":"black"},"encoding":{"text":{"field":"t"}}},
     {"data":{"name":"labels"},"transform":[{"filter":"datum.p=='a' && datum.k=='letter'"}],"mark":{"type":"text","align":"left","baseline":"alphabetic","fontSize":32,"fontWeight":"bold","color":"black"},"encoding":{"text":{"field":"t"}}}
    ]},
   {"width":264,"height":212,
    "encoding":{"x":{"field":"x","type":"quantitative","scale":{"domain":[10,90],"nice":false,"zero":false},"axis":{"title":"2θ (degree)","values":[10,20,30,40,50,60,70,80,90],"labelExpr":"datum.value % 20 == 10 ? datum.label : ''","labelFlush":false,"labelOverlap":false,"labelFontSize":14,"labelFontWeight":"bold","labelColor":"black","labelPadding":2,"tickSize":3,"tickColor":"black","tickWidth":1.2,"titleFontSize":15,"titleFontWeight":"bold","titleColor":"black","titlePadding":5,"domain":false,"grid":false}},
     "y":{"field":"y","type":"quantitative","title":"Intensity (a.u.)","scale":{"domain":[0,212],"nice":false,"zero":false},"axis":{"labels":false,"ticks":false,"domain":false,"grid":false,"titleFontSize":14,"titleFontWeight":"bold","titleColor":"black","titlePadding":10}}},
    "layer":[
     {"data":{"name":"sticks"},"mark":{"type":"rule","strokeWidth":2},"encoding":{"y":{"field":"h","type":"quantitative","title":"Intensity (a.u.)"},"y2":{"datum":0},"color":{"field":"r","type":"nominal","scale":{"domain":["g","r","k","A","R"],"range":["#35a460","#f03a3a","#505050","#f4858d","#2aa8e0"]},"legend":null}}},
     {"data":{"name":"xrd"},"transform":[{"filter":"datum.p=='b'"}],"mark":{"type":"line","strokeWidth":1.2},"encoding":{"color":{"field":"s","type":"nominal","scale":{"domain":["g","r","k","A","R"],"range":["#35a460","#f03a3a","#505050","#f4858d","#2aa8e0"]},"legend":null}}},
     {"data":{"name":"labels"},"transform":[{"filter":"datum.p=='b' && datum.k=='curve'"}],"mark":{"type":"text","align":"right","baseline":"middle","fontSize":11,"fontWeight":"bold","color":"black"},"encoding":{"text":{"field":"t"}}},
     {"data":{"name":"labels"},"transform":[{"filter":"datum.p=='b' && datum.k=='pdfA'"}],"mark":{"type":"text","align":"left","baseline":"middle","fontSize":10,"color":"#f4858d"},"encoding":{"text":{"field":"t"}}},
     {"data":{"name":"labels"},"transform":[{"filter":"datum.p=='b' && datum.k=='pdfR'"}],"mark":{"type":"text","align":"left","baseline":"middle","fontSize":10,"color":"#2aa8e0"},"encoding":{"text":{"field":"t"}}},
     {"data":{"name":"labels"},"transform":[{"filter":"datum.p=='b' && datum.k=='title'"}],"mark":{"type":"text","align":"left","baseline":"alphabetic","fontSize":15,"fontWeight":"bold","color":"black"},"encoding":{"text":{"field":"t"}}},
     {"data":{"name":"labels"},"transform":[{"filter":"datum.p=='b' && datum.k=='letter'"}],"mark":{"type":"text","align":"left","baseline":"alphabetic","fontSize":32,"fontWeight":"bold","color":"black"},"encoding":{"text":{"field":"t"}}}
    ]}
  ]},
  {"spacing":0,"hconcat":[
   {"width":264,"height":212,
    "encoding":{"x":{"field":"x","type":"quantitative","scale":{"domain":[10,90],"nice":false,"zero":false},"axis":{"title":"2θ (degree)","values":[10,20,30,40,50,60,70,80,90],"labelExpr":"datum.value % 20 == 10 ? datum.label : ''","labelFlush":false,"labelOverlap":false,"labelFontSize":14,"labelFontWeight":"bold","labelColor":"black","labelPadding":5,"tickSize":3,"tickColor":"black","tickWidth":1.2,"titleFontSize":15,"titleFontWeight":"bold","titleColor":"black","titlePadding":1,"domain":false,"grid":false}},
     "y":{"field":"y","type":"quantitative","title":"Intensity (a.u.)","scale":{"domain":[0,212],"nice":false,"zero":false},"axis":{"labels":false,"ticks":false,"domain":false,"grid":false,"titleFontSize":14,"titleFontWeight":"bold","titleColor":"black","titlePadding":10}}},
    "layer":[
     {"data":{"name":"sticks"},"mark":{"type":"rule","strokeWidth":2},"encoding":{"y":{"field":"h","type":"quantitative","title":"Intensity (a.u.)"},"y2":{"datum":0},"color":{"field":"r","type":"nominal","scale":{"domain":["g","r","k","A","R"],"range":["#35a460","#f03a3a","#505050","#f4858d","#2aa8e0"]},"legend":null}}},
     {"data":{"name":"xrd"},"transform":[{"filter":"datum.p=='c'"}],"mark":{"type":"line","strokeWidth":1.2},"encoding":{"color":{"field":"s","type":"nominal","scale":{"domain":["g","r","k","A","R"],"range":["#35a460","#f03a3a","#505050","#f4858d","#2aa8e0"]},"legend":null}}},
     {"data":{"name":"labels"},"transform":[{"filter":"datum.p=='c' && datum.k=='curve'"}],"mark":{"type":"text","align":"right","baseline":"middle","fontSize":11,"fontWeight":"bold","color":"black"},"encoding":{"text":{"field":"t"}}},
     {"data":{"name":"labels"},"transform":[{"filter":"datum.p=='c' && datum.k=='pdfA'"}],"mark":{"type":"text","align":"left","baseline":"middle","fontSize":10,"color":"#f4858d"},"encoding":{"text":{"field":"t"}}},
     {"data":{"name":"labels"},"transform":[{"filter":"datum.p=='c' && datum.k=='pdfR'"}],"mark":{"type":"text","align":"left","baseline":"middle","fontSize":10,"color":"#2aa8e0"},"encoding":{"text":{"field":"t"}}},
     {"data":{"name":"labels"},"transform":[{"filter":"datum.p=='c' && datum.k=='title'"}],"mark":{"type":"text","align":"left","baseline":"alphabetic","fontSize":15,"fontWeight":"bold","color":"black"},"encoding":{"text":{"field":"t"}}},
     {"data":{"name":"labels"},"transform":[{"filter":"datum.p=='c' && datum.k=='letter'"}],"mark":{"type":"text","align":"left","baseline":"alphabetic","fontSize":32,"fontWeight":"bold","color":"black"},"encoding":{"text":{"field":"t"}}}
    ]},
   {"width":264,"height":212,
    "encoding":{"x":{"field":"x","type":"quantitative","scale":{"domain":[10,90],"nice":false,"zero":false},"axis":{"title":"2θ (degree)","values":[10,20,30,40,50,60,70,80,90],"labelExpr":"datum.value % 20 == 10 ? datum.label : ''","labelFlush":false,"labelOverlap":false,"labelFontSize":14,"labelFontWeight":"bold","labelColor":"black","labelPadding":5,"tickSize":3,"tickColor":"black","tickWidth":1.2,"titleFontSize":15,"titleFontWeight":"bold","titleColor":"black","titlePadding":1,"domain":false,"grid":false}},
     "y":{"field":"y","type":"quantitative","title":"Intensity (a.u.)","scale":{"domain":[0,212],"nice":false,"zero":false},"axis":{"labels":false,"ticks":false,"domain":false,"grid":false,"titleFontSize":14,"titleFontWeight":"bold","titleColor":"black","titlePadding":10}}},
    "layer":[
     {"data":{"name":"sticks"},"mark":{"type":"rule","strokeWidth":2},"encoding":{"y":{"field":"h","type":"quantitative","title":"Intensity (a.u.)"},"y2":{"datum":0},"color":{"field":"r","type":"nominal","scale":{"domain":["g","r","k","A","R"],"range":["#35a460","#f03a3a","#505050","#f4858d","#2aa8e0"]},"legend":null}}},
     {"data":{"name":"xrd"},"transform":[{"filter":"datum.p=='d'"}],"mark":{"type":"line","strokeWidth":1.2},"encoding":{"color":{"field":"s","type":"nominal","scale":{"domain":["g","r","k","A","R"],"range":["#35a460","#f03a3a","#505050","#f4858d","#2aa8e0"]},"legend":null}}},
     {"data":{"name":"labels"},"transform":[{"filter":"datum.p=='d' && datum.k=='curve'"}],"mark":{"type":"text","align":"right","baseline":"middle","fontSize":11,"fontWeight":"bold","color":"black"},"encoding":{"text":{"field":"t"}}},
     {"data":{"name":"labels"},"transform":[{"filter":"datum.p=='d' && datum.k=='pdfA'"}],"mark":{"type":"text","align":"left","baseline":"middle","fontSize":10,"color":"#f4858d"},"encoding":{"text":{"field":"t"}}},
     {"data":{"name":"labels"},"transform":[{"filter":"datum.p=='d' && datum.k=='pdfR'"}],"mark":{"type":"text","align":"left","baseline":"middle","fontSize":10,"color":"#2aa8e0"},"encoding":{"text":{"field":"t"}}},
     {"data":{"name":"labels"},"transform":[{"filter":"datum.p=='d' && datum.k=='title'"}],"mark":{"type":"text","align":"left","baseline":"alphabetic","fontSize":15,"fontWeight":"bold","color":"black"},"encoding":{"text":{"field":"t"}}},
     {"data":{"name":"labels"},"transform":[{"filter":"datum.p=='d' && datum.k=='letter'"}],"mark":{"type":"text","align":"left","baseline":"alphabetic","fontSize":32,"fontWeight":"bold","color":"black"},"encoding":{"text":{"field":"t"}}}
    ]}
  ]}
 ],
 "spacing":11
}
